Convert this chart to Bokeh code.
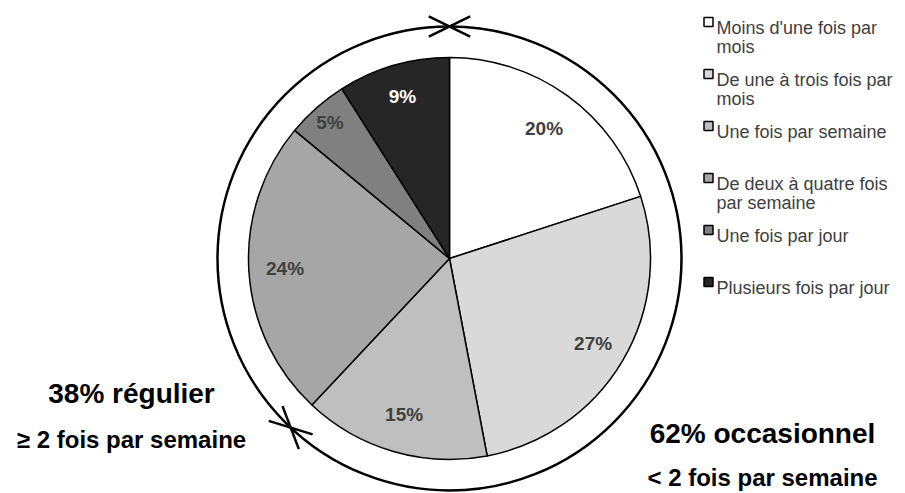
import math
from bokeh.plotting import figure
from bokeh.models import Range1d, ColumnDataSource
from bokeh.core.properties import value
from bokeh.embed import file_html
from bokeh.resources import INLINE

# ---- data ----
categories = ["Moins d'une fois par mois", "De une à trois fois par mois", "Une fois par semaine",
              "De deux à quatre fois par semaine", "Une fois par jour", "Plusieurs fois par jour"]
legend_lines = [["Moins d'une fois par", "mois"], ["De une à trois fois par", "mois"],
                ["Une fois par semaine"], ["De deux à quatre fois", "par semaine"],
                ["Une fois par jour"], ["Plusieurs fois par jour"]]
shares = [20, 27, 15, 24, 5, 9]
pct_labels = ["20%", "27%", "15%", "24%", "5%", "9%"]
group_regular = 38
group_occasional = 62
group_texts = ["38% régulier", "≥ 2 fois par semaine", "62% occasionnel", "< 2 fois par semaine"]

# ---- style ----
colors = ["#ffffff", "#d9d9d9", "#bfbfbf", "#a6a6a6", "#808080", "#262626"]
label_colors = ["#404040", "#404040", "#404040", "#404040", "#404040", "#ffffff"]
label_rad = [0.80, 0.83, 0.81, 0.82, 0.90, 0.84]

W, H = 905, 493
def Y(s):
    return H - s

cx, cy, r, R = 449, Y(258), 201, 232

p = figure(width=W, height=H, x_range=Range1d(0, W), y_range=Range1d(0, H),
           output_backend="svg", toolbar_location=None, min_border=0,
           x_axis_location=None, y_axis_location=None)
p.grid.visible = False
p.outline_line_color = None
p.background_fill_color = "white"

total = float(sum(shares))
starts, ends, mids = [], [], []
cum = 0.0
for s in shares:
    a0 = math.pi / 2 - 2 * math.pi * (cum + s) / total
    a1 = math.pi / 2 - 2 * math.pi * cum / total
    starts.append(a0); ends.append(a1)
    mids.append(math.pi / 2 - 2 * math.pi * (cum + s / 2) / total)
    cum += s

src = ColumnDataSource(dict(x=[cx] * len(shares), y=[cy] * len(shares), start=starts, end=ends, color=colors))
p.wedge(x="x", y="y", radius=r, start_angle="start", end_angle="end", fill_color="color",
        line_color="black", line_width=1.5, source=src)

lx = [cx + r * f * math.cos(m) for f, m in zip(label_rad, mids)]
ly = [cy + r * f * math.sin(m) for f, m in zip(label_rad, mids)]
p.text(x=lx, y=ly, text=pct_labels, text_color=label_colors, text_font=value("Liberation Sans"),
       text_font_style="bold", text_font_size="19px", text_align="center", text_baseline="middle")

# outer ring
p.circle(x=[cx], y=[cy], radius=R, fill_color=None, line_color="black", line_width=2.5)

# separators on the ring
sep_fracs = [0.0, group_regular / 100.0]
x0s, y0s, x1s, y1s = [], [], [], []
for f in sep_fracs:
    a = math.pi / 2 + 2 * math.pi * f
    px, py = cx + R * math.cos(a), cy + R * math.sin(a)
    t = a + math.pi / 2
    for d in (math.radians(26), -math.radians(26)):
        dx, dy = math.cos(t + d) * 23, math.sin(t + d) * 23
        x0s.append(px - dx); y0s.append(py - dy); x1s.append(px + dx); y1s.append(py + dy)
p.segment(x0=x0s, y0=y0s, x1=x1s, y1=y1s, line_color="black", line_width=2.5)

# legend
mk_x, mk_y, tx, ty, tt = [], [], [], [], []
for i, lines in enumerate(legend_lines):
    base = 27 + 52 * i
    mk_x.append(708); mk_y.append(Y(base - 5.5))
    for j, ln in enumerate(lines):
        tx.append(716); ty.append(Y(base + 19 * j)); tt.append(ln)
p.rect(x=mk_x, y=mk_y, width=9, height=9, fill_color=colors, line_color="black", line_width=1.5)
p.text(x=tx, y=ty, text=tt, text_color="#404040", text_font=value("Liberation Sans"),
       text_font_size="18px", text_align="left", text_baseline="alphabetic")

# group annotations
p.text(x=[131, 762], y=[Y(393), Y(433)], text=[group_texts[0], group_texts[2]], text_color="black",
       text_font=value("Liberation Sans"), text_font_style="bold", text_font_size="28px",
       text_align="center", text_baseline="alphabetic")
p.text(x=[131, 762], y=[Y(439), Y(477)], text=[group_texts[1], group_texts[3]], text_color="black",
       text_font=value("Liberation Sans"), text_font_style="bold", text_font_size="24px",
       text_align="center", text_baseline="alphabetic")

open("out.html", "w").write(file_html(p, INLINE))
